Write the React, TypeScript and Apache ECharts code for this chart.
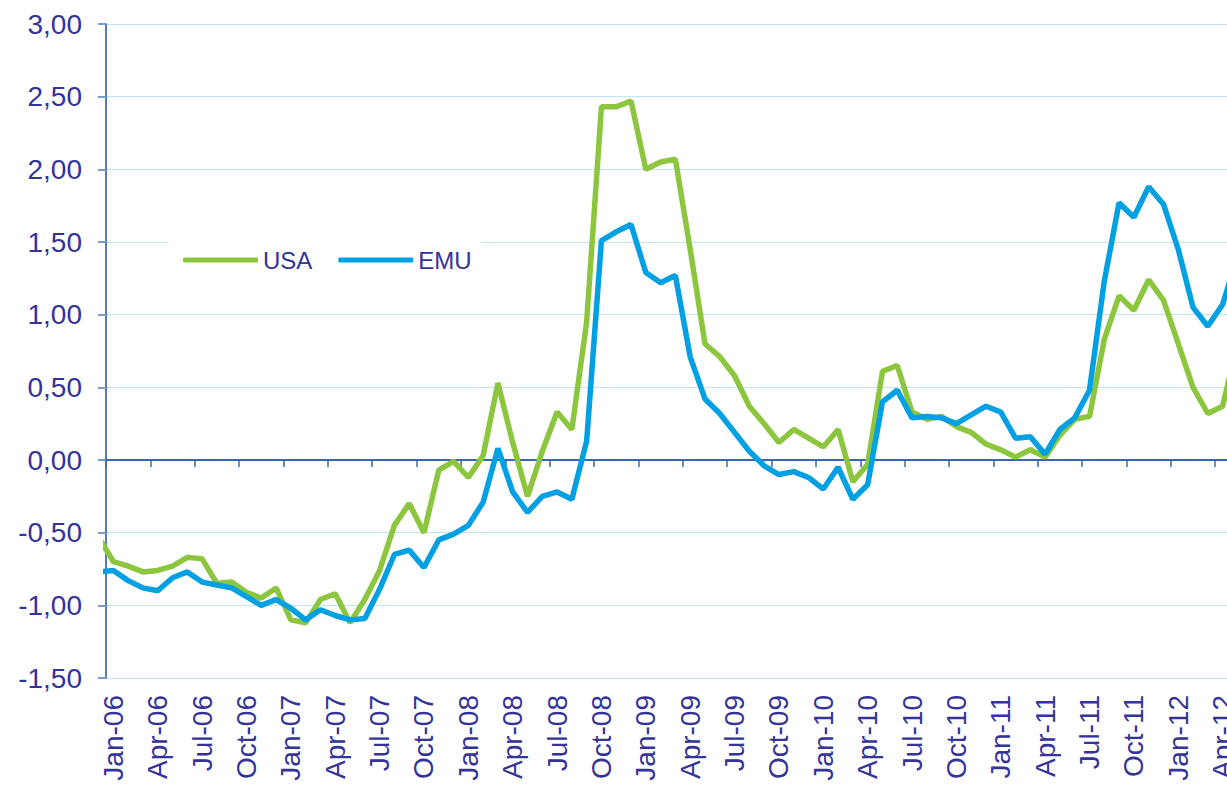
import React, { useEffect, useRef } from "react";
import * as echarts from "echarts";

// Periods Dec-05 .. May-12 (first and last fall just outside the visible plot area)
const periods = [
  "Dec-05",
  "Jan-06", "Feb-06", "Mar-06", "Apr-06", "May-06", "Jun-06", "Jul-06", "Aug-06", "Sep-06", "Oct-06", "Nov-06", "Dec-06",
  "Jan-07", "Feb-07", "Mar-07", "Apr-07", "May-07", "Jun-07", "Jul-07", "Aug-07", "Sep-07", "Oct-07", "Nov-07", "Dec-07",
  "Jan-08", "Feb-08", "Mar-08", "Apr-08", "May-08", "Jun-08", "Jul-08", "Aug-08", "Sep-08", "Oct-08", "Nov-08", "Dec-08",
  "Jan-09", "Feb-09", "Mar-09", "Apr-09", "May-09", "Jun-09", "Jul-09", "Aug-09", "Sep-09", "Oct-09", "Nov-09", "Dec-09",
  "Jan-10", "Feb-10", "Mar-10", "Apr-10", "May-10", "Jun-10", "Jul-10", "Aug-10", "Sep-10", "Oct-10", "Nov-10", "Dec-10",
  "Jan-11", "Feb-11", "Mar-11", "Apr-11", "May-11", "Jun-11", "Jul-11", "Aug-11", "Sep-11", "Oct-11", "Nov-11", "Dec-11",
  "Jan-12", "Feb-12", "Mar-12", "Apr-12",
  "May-12",
];

// Visible axis categories: Jan-06 .. Apr-12
const axisMonths = periods.slice(1, 77);

const usa = [
  -0.53,
  -0.70, -0.73, -0.77, -0.76, -0.73, -0.67, -0.68, -0.85, -0.84, -0.91, -0.95, -0.88,
  -1.10, -1.12, -0.96, -0.92, -1.12, -0.96, -0.76, -0.45, -0.30, -0.50, -0.07, -0.01,
  -0.12, 0.03, 0.53, 0.12, -0.25, 0.06, 0.33, 0.21, 0.95, 2.43, 2.43, 2.47,
  2.00, 2.05, 2.07, 1.45, 0.80, 0.71, 0.58, 0.37, 0.25, 0.12, 0.21, 0.15,
  0.09, 0.21, -0.15, -0.03, 0.61, 0.65, 0.33, 0.28, 0.30, 0.23, 0.19, 0.11,
  0.07, 0.02, 0.07, 0.02, 0.17, 0.28, 0.30, 0.83, 1.13, 1.03, 1.24, 1.10,
  0.80, 0.50, 0.32, 0.37,
  0.80,
];

const emu = [
  -0.77,
  -0.76, -0.83, -0.88, -0.90, -0.81, -0.77, -0.84, -0.86, -0.88, -0.94, -1.00, -0.96,
  -1.02, -1.10, -1.03, -1.07, -1.10, -1.09, -0.89, -0.65, -0.62, -0.74, -0.55, -0.51,
  -0.45, -0.29, 0.08, -0.22, -0.36, -0.25, -0.22, -0.27, 0.13, 1.51, 1.57, 1.62,
  1.29, 1.22, 1.27, 0.71, 0.42, 0.32, 0.19, 0.06, -0.04, -0.10, -0.08, -0.12,
  -0.20, -0.05, -0.27, -0.17, 0.40, 0.48, 0.29, 0.30, 0.29, 0.25, 0.31, 0.37,
  0.33, 0.15, 0.16, 0.04, 0.21, 0.29, 0.48, 1.23, 1.77, 1.67, 1.88, 1.76,
  1.45, 1.05, 0.92, 1.07,
  1.40,
];

const seriesNames = ["USA", "EMU"];

const TEXT = "#333399";
const FONT = "'Liberation Sans', Arial, sans-serif";

export default function App() {
  const ref = useRef<HTMLDivElement>(null);

  useEffect(() => {
    if (!ref.current) return;
    const chart = echarts.init(ref.current, null, { renderer: "svg" });
    const toPts = (arr: number[]) => arr.map((v, i) => [i - 1, v]);
    chart.setOption({
      animation: false,
      textStyle: { fontFamily: FONT },
      grid: {
        left: 106,
        top: 24,
        width: 1124,
        height: 654,
        containLabel: false,
        outerBoundsMode: "none",
      },
      legend: {
        data: seriesNames,
        left: 168,
        top: 233,
        orient: "horizontal",
        icon: "roundRect",
        itemWidth: 75,
        itemHeight: 5,
        itemGap: 26,
        backgroundColor: "#ffffff",
        padding: [15, 10, 15, 15],
        textStyle: { fontSize: 24, color: TEXT, fontFamily: FONT },
      },
      xAxis: [
        {
          type: "category",
          data: axisMonths,
          boundaryGap: true,
          position: "bottom",
          axisLine: { show: false, onZero: false },
          axisTick: { show: false },
          splitLine: { show: false },
          axisLabel: {
            interval: 2,
            rotate: 90,
            margin: 17,
            fontSize: 28,
            color: TEXT,
            fontFamily: FONT,
            hideOverlap: false,
          },
        },
        {
          type: "category",
          data: axisMonths,
          boundaryGap: true,
          position: "bottom",
          axisLine: {
            show: true,
            onZero: true,
            onZeroAxisIndex: 0,
            lineStyle: { color: "#3a66ad", width: 2 },
          },
          axisTick: {
            show: true,
            interval: 2,
            length: 7,
            lineStyle: { color: "#3a66ad", width: 1.5 },
          },
          axisLabel: { show: false },
          splitLine: { show: false },
        },
        {
          type: "value",
          min: -0.5,
          max: 75.5,
          show: false,
          axisLine: { onZero: false },
          splitLine: { show: false },
        },
      ],
      yAxis: {
        type: "value",
        min: -1.5,
        max: 3,
        interval: 0.5,
        axisLine: { show: true, onZero: false, lineStyle: { color: "#1e4fa0", width: 1.5 } },
        axisTick: { show: true, length: 8, lineStyle: { color: "#7d9acb", width: 2 } },
        axisLabel: {
          margin: 24,
          fontSize: 28,
          color: TEXT,
          fontFamily: FONT,
          formatter: (v: number) => v.toFixed(2).replace(".", ","),
        },
        splitLine: { show: true, lineStyle: { color: "#bfe6f6", width: 1.2 } },
      },
      series: [
        {
          name: seriesNames[0],
          type: "line",
          xAxisIndex: 2,
          data: toPts(usa),
          symbol: "none",
          clip: true,
          lineStyle: { color: "#8cc63f", width: 5.5 },
          itemStyle: { color: "#8cc63f" },
        },
        {
          name: seriesNames[1],
          type: "line",
          xAxisIndex: 2,
          data: toPts(emu),
          symbol: "none",
          clip: true,
          lineStyle: { color: "#00a0e3", width: 5.5 },
          itemStyle: { color: "#00a0e3" },
        },
      ],
    });
    return () => chart.dispose();
  }, []);

  return (
    <div
      ref={ref}
      style={{ position: "fixed", left: 0, top: 0, width: 1227, height: 787, background: "#fff" }}
    />
  );
}
